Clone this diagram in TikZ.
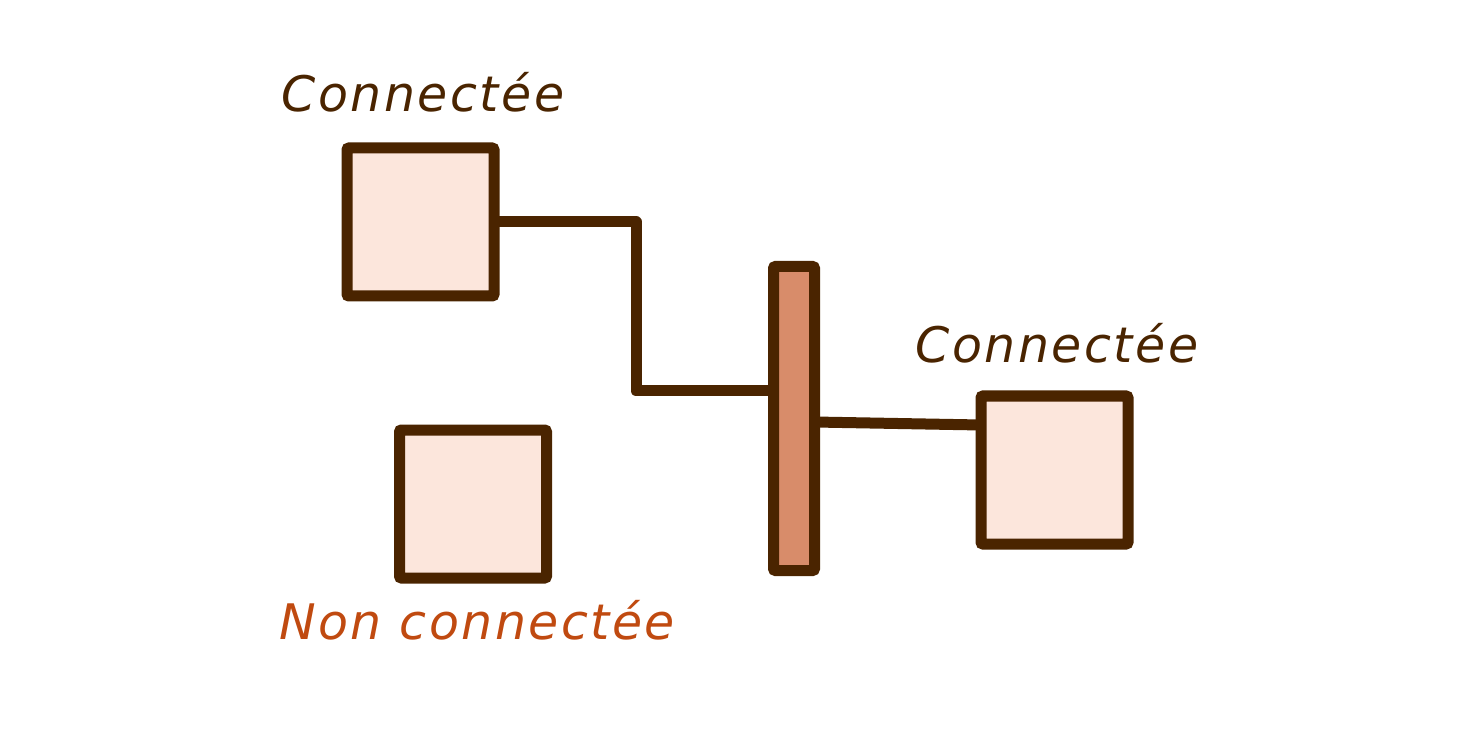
\documentclass[tikz,border=0pt]{standalone}
\usepackage{fontspec}
\setmainfont{DejaVu Sans}
\newfontfamily\handfont{DejaVu Sans Oblique}[LetterSpace=5]
\definecolor{edge}{RGB}{74,36,0}
\definecolor{boxfill}{RGB}{252,230,220}
\definecolor{barfill}{RGB}{216,140,106}
\definecolor{warn}{RGB}{192,74,16}
\begin{document}
\begin{tikzpicture}[x=1pt,y=-1pt,
  unit/.style={draw=edge,fill=boxfill,line width=11pt,rounded corners=2pt,minimum width=147pt,minimum height=148pt,inner sep=0pt,outer sep=0pt},
  switchbar/.style={draw=edge,fill=barfill,line width=11pt,rounded corners=2pt,minimum width=41pt,minimum height=304pt,inner sep=0pt,outer sep=0pt},
  wire/.style={draw=edge,line width=11pt,line join=round},
  lbl/.style={font=\handfont\fontsize{49}{54}\selectfont,inner sep=0pt}]
\useasboundingbox (0,0) rectangle (1484,735);
\node[unit] (b1) at (420.5,222) {};
\node[unit] (b2) at (473,504) {};
\node[unit] (b3) at (1054.5,470) {};
\node[switchbar] (bar) at (794,418.5) {};
\coordinate (c1) at (636,222);
\coordinate (c2) at (636,391);
\draw[wire] (b1.east) -- (c1) -- (c2) -- (c2 -| bar.west);
\draw[wire] (bar.east |- 0,422) -- (b3.west |- 0,425);
\node[lbl,text=edge] (t1) at (423,92) {Connectée};
\node[lbl,text=edge] (t3) at (1057,343) {Connectée};
\node[lbl,text=warn] (t2) at (477,620) {Non connectée};
\end{tikzpicture}
\end{document}
